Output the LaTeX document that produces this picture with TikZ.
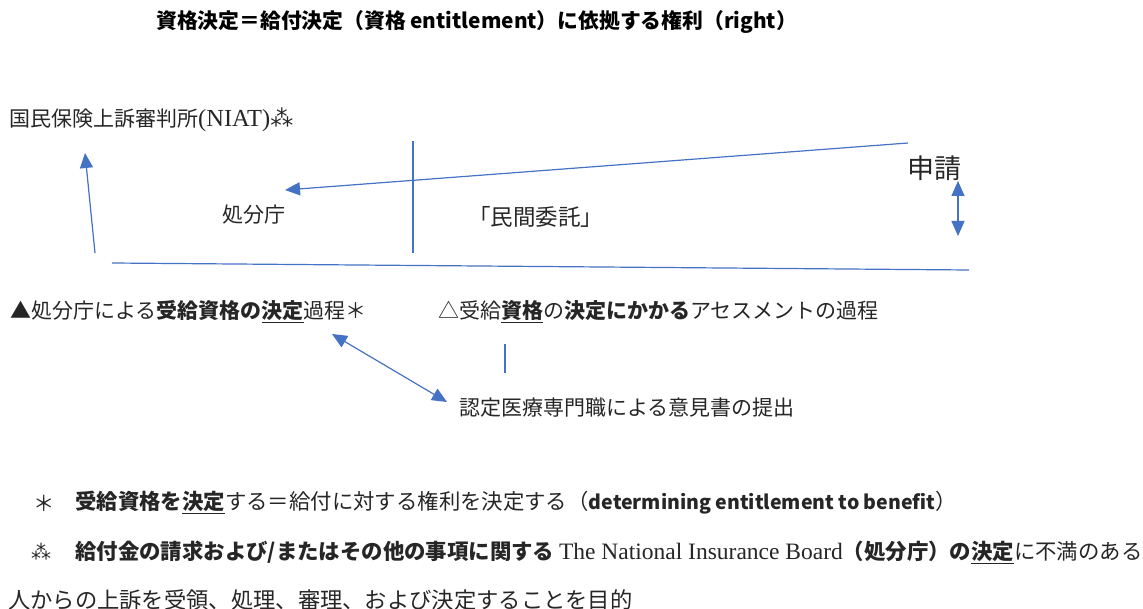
\documentclass[tikz,border=0pt]{standalone}
\usepackage{fontspec}
\usetikzlibrary{arrows.meta}
\newfontfamily\jp{Noto Sans CJK JP}
\newfontfamily\ser{Liberation Serif}
\newfontfamily\dv{DejaVu Sans}
\definecolor{lblue}{HTML}{4472C4}
\newcommand{\ulx}[1]{\underline{#1}}
\newcommand{\bx}[1]{{\bfseries #1}}
\tikzset{
  lbl/.style={anchor=west, inner sep=0pt, text=black!85},
  body/.style={lbl, font=\jp\fontsize{21}{24}\selectfont},
  foot/.style={lbl, font=\jp\fontsize{21.4}{24}\selectfont},
  conn/.style={draw=lblue, line width=1.2pt},
  arr/.style={conn, -{Triangle[length=15pt,width=13pt]}},
  darr/.style={conn, {Triangle[length=15pt,width=13pt]}-{Triangle[length=15pt,width=13pt]}},
}
\begin{document}
\begin{tikzpicture}[x=1pt,y=-1pt]
\useasboundingbox[fill=white] (0,0) rectangle (1143,609);
% title
\node[lbl, text=black, font=\jp\bfseries\fontsize{20.8}{24}\selectfont] (title) at (156,22) {資格決定＝給付決定（資格 entitlement）に依拠する権利（right）};
% upper diagram
\node[lbl, font=\jp\fontsize{21}{24}\selectfont] (niat) at (9,120) {国民保険上訴審判所{\ser\fontsize{24.5}{26}\selectfont(NIAT)}{\dv\fontsize{23}{24}\selectfont ⁂}};
\node[body] (shobun) at (222,215) {処分庁};
\node[lbl, font=\jp\fontsize{22.5}{24}\selectfont] (minkan) at (468,217) {「民間委託」};
\node[lbl, font=\jp\fontsize{27}{30}\selectfont] (shinsei) at (907,168) {申請};
\coordinate (a1s) at (95,253);
\coordinate (a1e) at (85,153);
\coordinate (a2s) at (908,143);
\coordinate (a2e) at (285,190);
\coordinate (vs) at (413,141);
\coordinate (ve) at (413,253);
\coordinate (d1s) at (958,181);
\coordinate (d1e) at (958,236);
\coordinate (hs) at (112,263);
\coordinate (he) at (969,270);
\draw[arr] (a1s) -- (a1e);
\draw[arr] (a2s) -- (a2e);
\draw[conn] (vs) -- (ve);
\draw[darr] (d1s) -- (d1e);
\draw[conn] (hs) -- (he);
% middle
\node[body] (proc1) at (10,312) {▲処分庁による\bx{受給資格の\ulx{決定}}過程＊};
\node[body] (proc2) at (438,312) {△受給\bx{\ulx{資格}}の\bx{決定にかかる}アセスメントの過程};
\node[body] (opinion) at (459,408) {認定医療専門職による意見書の提出};
\coordinate (ts) at (505,344);
\coordinate (te) at (505,373);
\draw[conn] (ts) -- (te);
\coordinate (d2s) at (332,334);
\coordinate (d2e) at (447,402);
\draw[darr] (d2s) -- (d2e);
% footnotes
\node[foot] (star1) at (33,503) {＊};
\node[foot] (note1) at (75,503) {\bx{受給資格を\ulx{決定}}する＝給付に対する権利を決定する（{\bfseries\fontsize{19.5}{22}\selectfont determining entitlement to benefit}）};
\node[lbl, font=\dv\fontsize{20}{22}\selectfont] (star2) at (31,552) {⁂};
\node[foot] (note2) at (75,552) {\bx{給付金の請求および/またはその他の事項に関する} {\ser\fontsize{23.5}{26}\selectfont The National Insurance Board}\bx{（処分庁）の\ulx{決定}}に不満のある};
\node[lbl, font=\jp\fontsize{22.3}{24}\selectfont] (note3) at (8,600) {人からの上訴を受領、処理、審理、および決定することを目的};
\end{tikzpicture}
\end{document}
